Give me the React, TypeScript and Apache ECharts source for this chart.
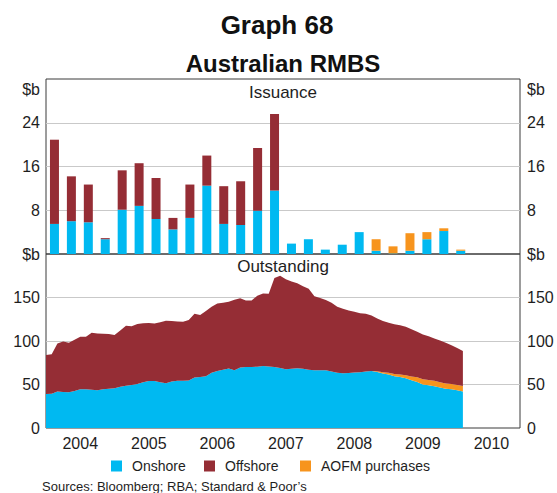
import React, { useEffect, useRef } from "react";
import * as echarts from "echarts";

// ---------- Issuance (quarterly, $b) ----------
const quarters = [
  "2004Q1", "2004Q2", "2004Q3", "2004Q4",
  "2005Q1", "2005Q2", "2005Q3", "2005Q4",
  "2006Q1", "2006Q2", "2006Q3", "2006Q4",
  "2007Q1", "2007Q2", "2007Q3", "2007Q4",
  "2008Q1", "2008Q2", "2008Q3", "2008Q4",
  "2009Q1", "2009Q2", "2009Q3", "2009Q4",
  "2010Q1", "2010Q2", "2010Q3", "2010Q4",
];
const onshoreIss = [5.5, 6.0, 5.8, 2.7, 8.1, 8.8, 6.4, 4.5, 6.6, 12.5, 5.5, 5.3, 7.9, 11.6, 1.9, 2.7, 0.8, 1.7, 4.0, 0.6, 0.1, 0.6, 2.7, 4.2, 0.6];
const offshoreIss = [15.4, 8.2, 6.9, 0.2, 7.2, 7.8, 7.5, 2.1, 6.1, 5.5, 6.9, 8.0, 11.5, 14.0, 0, 0, 0, 0, 0, 0, 0, 0, 0, 0, 0];
const aofmIss = [0, 0, 0, 0, 0, 0, 0, 0, 0, 0, 0, 0, 0, 0, 0, 0, 0, 0, 0, 2.1, 1.3, 3.2, 1.3, 0.5, 0.2];

// ---------- Outstanding (monthly, $b), axis Dec 2003 .. Nov 2010, data to Jan 2010 ----------
const monthCats: string[] = [];
for (let y = 2003; y <= 2010; y++) {
  for (let m = 1; m <= 12; m++) {
    if ((y === 2003 && m < 12) || (y === 2010 && m > 11)) continue;
    monthCats.push(`${y}-${m < 10 ? "0" + m : m}`);
  }
}
const onshoreOut = [
  39, 39.5, 42, 41.5, 41.2, 42.5, 44.5, 44.5, 44, 43.5,
  44.5, 45, 45.8, 47.5, 48.5, 49.5, 50.5, 52.5, 54, 54,
  52.5, 51.5, 53.5, 54.2, 54.2, 54.5, 58, 58.5, 59.5, 63.5,
  65.5, 67, 68.3, 66.4, 69.5, 70.2, 70.2, 70.5, 71.4, 70.8,
  70.2, 69, 67.6, 68, 68.7, 68, 67, 66.4, 66.4, 66.4,
  65, 63.5, 63, 63.3, 63.7, 64.2, 65, 65.6, 64.5, 62.7,
  61.5, 59.5, 58.5, 57.3, 55, 53, 50, 49, 48, 46.5,
  45, 44.5, 43.5, 42,
];
const aofmOut = [
  0, 0, 0, 0, 0, 0, 0, 0, 0, 0,
  0, 0, 0, 0, 0, 0, 0, 0, 0, 0,
  0, 0, 0, 0, 0, 0, 0, 0, 0, 0,
  0, 0, 0, 0, 0, 0, 0, 0, 0, 0,
  0, 0, 0, 0, 0, 0, 0, 0, 0, 0,
  0, 0, 0, 0, 0, 0, 0, 0, 0.7, 1.4,
  2.1, 2.5, 2.9, 3.3, 4.3, 5.2, 6.1, 6.2, 6.2, 6.2,
  6.1, 6.0, 6.0, 6.2,
];
const offshoreOut = [
  45, 45.2, 55, 58, 56.8, 59, 60.5, 60.5, 65.5, 65.1,
  63.8, 63, 61.2, 64.5, 69, 67.5, 69, 68, 66.6, 66,
  69, 71.8, 69.5, 68.3, 67.8, 69.5, 73.3, 71.5, 75, 76,
  77.5, 77, 76.7, 81.1, 79.5, 76.4, 76.4, 81.5, 83.2, 83.4,
  102.3, 106, 103.4, 100.5, 97.8, 95, 93, 85.1, 83.1, 80.6,
  79, 76, 74, 71.7, 69.8, 67.8, 66.3, 63.8, 60.8, 58.9,
  57.4, 57.2, 56.6, 55.9, 54.2, 52.3, 51.4, 50.3, 48.8, 47.8,
  46.9, 44.5, 42.5, 40.3,
];

const issTicks = [0, 8, 16, 24, 32];
const outTicks = [0, 50, 100, 150, 200];

const C_ON = "#00B9F1";
const C_OFF = "#952D35";
const C_AOFM = "#F7941D";
const FONT = '"Liberation Sans", Arial, Helvetica, sans-serif';
const TXT = "#1e1e1e";

export default function App() {
  const ref = useRef<HTMLDivElement>(null);
  useEffect(() => {
    if (!ref.current) return;
    const chart = echarts.init(ref.current, undefined, { renderer: "svg" });
    const ticks = (top: number) => (top === 32 ? issTicks : outTicks);
    const yBase = (grid: number, top: number, side: "left" | "right", split: boolean) => ({
      type: "value",
      gridIndex: grid,
      position: side,
      min: 0,
      max: top,
      interval: ticks(top)[1],
      axisLine: { show: false },
      axisTick: { show: false },
      splitLine: split
        ? { show: true, showMinLine: false, showMaxLine: false, lineStyle: { color: "#c9c9c9", width: 1 } }
        : { show: false },
      axisLabel: {
        fontSize: 16,
        color: TXT,
        margin: side === "left" ? 6 : 7,
        fontFamily: FONT,
        formatter: (v: number) => (top === 32 ? (v === 0 || v === 32 ? "" : String(v)) : v === 200 ? "$b" : String(v)),
      },
    });
    const option: any = {
      animation: false,
      textStyle: { fontFamily: FONT },
      grid: [
        { left: 46, right: 37, top: 79, height: 175, show: true, borderColor: "#3a3a3a", borderWidth: 1, backgroundColor: "transparent" },
        { left: 46, right: 37, top: 254, height: 174, show: true, borderColor: "#3a3a3a", borderWidth: 1, backgroundColor: "transparent" },
      ],
      xAxis: [
        {
          type: "category",
          gridIndex: 0,
          data: quarters,
          boundaryGap: true,
          axisLine: { show: false },
          axisTick: { show: false },
          axisLabel: { show: false },
          splitLine: { show: false },
        },
        {
          type: "category",
          gridIndex: 1,
          data: monthCats,
          boundaryGap: false,
          axisLine: { show: false },
          axisTick: {
            show: true,
            inside: true,
            length: 6,
            interval: (i: number) => i % 12 === 0,
            lineStyle: { color: "#333", width: 1 },
          },
          splitLine: { show: false },
          axisLabel: {
            margin: 7,
            fontSize: 16,
            color: TXT,
            fontFamily: FONT,
            interval: (i: number) => i % 12 === 6,
            formatter: (v: string) => v.slice(0, 4),
          },
        },
      ],
      yAxis: [
        yBase(0, 32, "left", true),
        yBase(0, 32, "right", false),
        yBase(1, 200, "left", true),
        yBase(1, 200, "right", false),
      ],
      legend: [
        { name: "Onshore", left: 106 },
        { name: "Offshore", left: 199 },
        { name: "AOFM purchases", left: 295 },
      ].map((l) => ({
        data: [l.name],
        left: l.left,
        top: 454,
        icon: "rect",
        itemWidth: 11,
        itemHeight: 11,
        itemGap: 0,
        selectedMode: false,
        textStyle: { fontSize: 14, color: TXT, fontFamily: FONT, padding: [0, 0, 0, 5] },
      })),
      graphic: [
        { type: "text", x: 277, y: 25, style: { text: "Graph 68", font: `bold 26px ${FONT}`, fill: "#111", align: "center", verticalAlign: "middle" } },
        { type: "text", x: 283, y: 63, style: { text: "Australian RMBS", font: `bold 24px ${FONT}`, fill: "#111", align: "center", verticalAlign: "middle" } },
        { type: "text", x: 283, y: 92, style: { text: "Issuance", font: `17px ${FONT}`, fill: TXT, align: "center", verticalAlign: "middle" } },
        { type: "text", x: 283, y: 266, style: { text: "Outstanding", font: `17px ${FONT}`, fill: TXT, align: "center", verticalAlign: "middle" } },
        { type: "text", x: 40, y: 89, style: { text: "$b", font: `16px ${FONT}`, fill: TXT, align: "right", verticalAlign: "middle" } },
        { type: "text", x: 527, y: 89, style: { text: "$b", font: `16px ${FONT}`, fill: TXT, align: "left", verticalAlign: "middle" } },
        { type: "text", x: 42, y: 486, style: { text: "Sources: Bloomberg; RBA; Standard & Poor’s", font: `13px ${FONT}`, fill: TXT, align: "left", verticalAlign: "middle" } },
      ],
      series: [
        { name: "Onshore", type: "bar", xAxisIndex: 0, yAxisIndex: 0, stack: "iss", barWidth: 9, itemStyle: { color: C_ON }, data: onshoreIss },
        { name: "Offshore", type: "bar", xAxisIndex: 0, yAxisIndex: 0, stack: "iss", barWidth: 9, itemStyle: { color: C_OFF }, data: offshoreIss },
        { name: "AOFM purchases", type: "bar", xAxisIndex: 0, yAxisIndex: 0, stack: "iss", barWidth: 9, itemStyle: { color: C_AOFM }, data: aofmIss },
        {
          name: "Onshore", type: "line", xAxisIndex: 1, yAxisIndex: 2, stack: "out", symbol: "none", showSymbol: false,
          lineStyle: { width: 0 }, itemStyle: { color: C_ON }, areaStyle: { color: C_ON, opacity: 1 }, data: onshoreOut,
        },
        {
          name: "AOFM purchases", type: "line", xAxisIndex: 1, yAxisIndex: 2, stack: "out", symbol: "none", showSymbol: false,
          lineStyle: { width: 0 }, itemStyle: { color: C_AOFM }, areaStyle: { color: C_AOFM, opacity: 1 }, data: aofmOut,
        },
        {
          name: "Offshore", type: "line", xAxisIndex: 1, yAxisIndex: 2, stack: "out", symbol: "none", showSymbol: false,
          lineStyle: { width: 0 }, itemStyle: { color: C_OFF }, areaStyle: { color: C_OFF, opacity: 1 }, data: offshoreOut,
        },
      ],
    };
    chart.setOption(option);
    return () => chart.dispose();
  }, []);
  return <div ref={ref} style={{ position: "absolute", left: 0, top: 0, width: 557, height: 493, background: "#fff" }} />;
}
